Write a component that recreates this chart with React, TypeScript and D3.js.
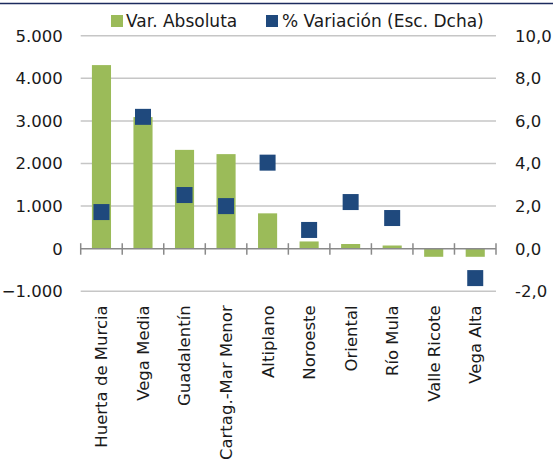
import React from "react";
import * as d3 from "d3";

// comarcas y valores
const categories = [
  "Huerta de Murcia",
  "Vega Media",
  "Guadalentín",
  "Cartag.-Mar Menor",
  "Altiplano",
  "Noroeste",
  "Oriental",
  "Río Mula",
  "Valle Ricote",
  "Vega Alta",
];
const varAbsoluta = [4310, 3090, 2320, 2220, 830, 170, 110, 75, -190, -190];
const varPct: (number | null)[] = [1.72, 6.19, 2.52, 2.0, 4.04, 0.88, 2.19, 1.44, null, -1.38];

const leftTicks = [-1000, 0, 1000, 2000, 3000, 4000, 5000];
const rightTicks = [-2, 0, 2, 4, 6, 8, 10];

const legendLabels = ["Var. Absoluta", "% Variación (Esc. Dcha)"];

const W = 553;
const H = 465;
const margin = { top: 35.7, right: 57, bottom: 173.7, left: 80.7 };
const green = "#9bbb59";
const navy = "#1f497d";
const font = "DejaVu Sans, Verdana, sans-serif";

const fmtLeft = (v: number) => d3.format(",")(v).replace(/,/g, ".");
const fmtRight = (v: number) => v.toFixed(1).replace(".", ",");

export default function App() {
  const innerW = W - margin.left - margin.right;
  const innerH = H - margin.top - margin.bottom;

  const x = d3.scaleBand().domain(categories).range([0, innerW]).paddingInner(0).paddingOuter(0);
  const yL = d3.scaleLinear().domain([-1000, 5000]).range([innerH, 0]);
  const yR = d3.scaleLinear().domain([-2, 10]).range([innerH, 0]);

  const barW = x.bandwidth() * 0.46;
  const mk = 16;
  const y0 = yL(0);

  return (
    <svg width={W} height={H} style={{ position: "absolute", left: 0, top: 0 }} fontFamily={font}>
      <rect width={W} height={H} fill="#fff" />
      <line x1={0} x2={W} y1={3.5} y2={3.5} stroke="#1c2b5e" strokeWidth={1.5} />

      {/* legend */}
      <g fontSize={17} fill="#1a1a1a">
        <rect x={111} y={15} width={12} height={12} fill={green} />
        <text x={126} y={27}>{legendLabels[0]}</text>
        <rect x={266} y={15} width={12} height={12} fill={navy} />
        <text x={282} y={27}>{legendLabels[1]}</text>
      </g>

      <g transform={`translate(${margin.left},${margin.top})`}>
        {/* gridlines */}
        {leftTicks.filter((t) => t !== 0).map((t) => (
          <line key={t} x1={0} x2={innerW} y1={yL(t)} y2={yL(t)} stroke="#c6c6c6" strokeWidth={1.5} />
        ))}

        {/* bars */}
        {categories.map((c, i) => {
          const v = varAbsoluta[i];
          const bx = (x(c) as number) + (x.bandwidth() - barW) / 2;
          return (
            <rect key={c} x={bx} width={barW} y={Math.min(yL(v), y0)} height={Math.abs(yL(v) - y0)} fill={green} />
          );
        })}

        {/* category axis */}
        <line x1={0} x2={innerW} y1={y0} y2={y0} stroke="#8a8a8a" strokeWidth={1.5} />
        {d3.range(categories.length + 1).map((i) => {
          const tx = i === categories.length ? innerW : (x(categories[i]) as number);
          return <line key={i} x1={tx} x2={tx} y1={y0 - 5.5} y2={y0 + 6} stroke="#8a8a8a" strokeWidth={1.5} />;
        })}

        {/* markers */}
        {categories.map((c, i) => {
          const v = varPct[i];
          if (v === null) return null;
          const cx = (x(c) as number) + x.bandwidth() / 2;
          return <rect key={c} x={cx - mk / 2} y={yR(v) - mk / 2} width={mk} height={mk} fill={navy} />;
        })}

        {/* left axis labels */}
        <g fontSize={16.5} fill="#1a1a1a" textAnchor="end">
          {leftTicks.map((t) => (
            <text key={t} x={-18} y={yL(t)} dy="0.36em">{fmtLeft(t)}</text>
          ))}
        </g>

        {/* right axis labels */}
        <g fontSize={16.5} fill="#1a1a1a" textAnchor="start">
          {rightTicks.map((t) => (
            <text key={t} x={innerW + 19} y={yR(t)} dy="0.36em">{fmtRight(t)}</text>
          ))}
        </g>

        {/* category labels */}
        <g fontSize={16.5} fill="#1a1a1a" textAnchor="end">
          {categories.map((c) => {
            const cx = (x(c) as number) + x.bandwidth() / 2;
            const ty = innerH + 14;
            return (
              <text key={c} transform={`translate(${cx},${ty}) rotate(-90)`} dy="0.36em">{c}</text>
            );
          })}
        </g>
      </g>
    </svg>
  );
}
